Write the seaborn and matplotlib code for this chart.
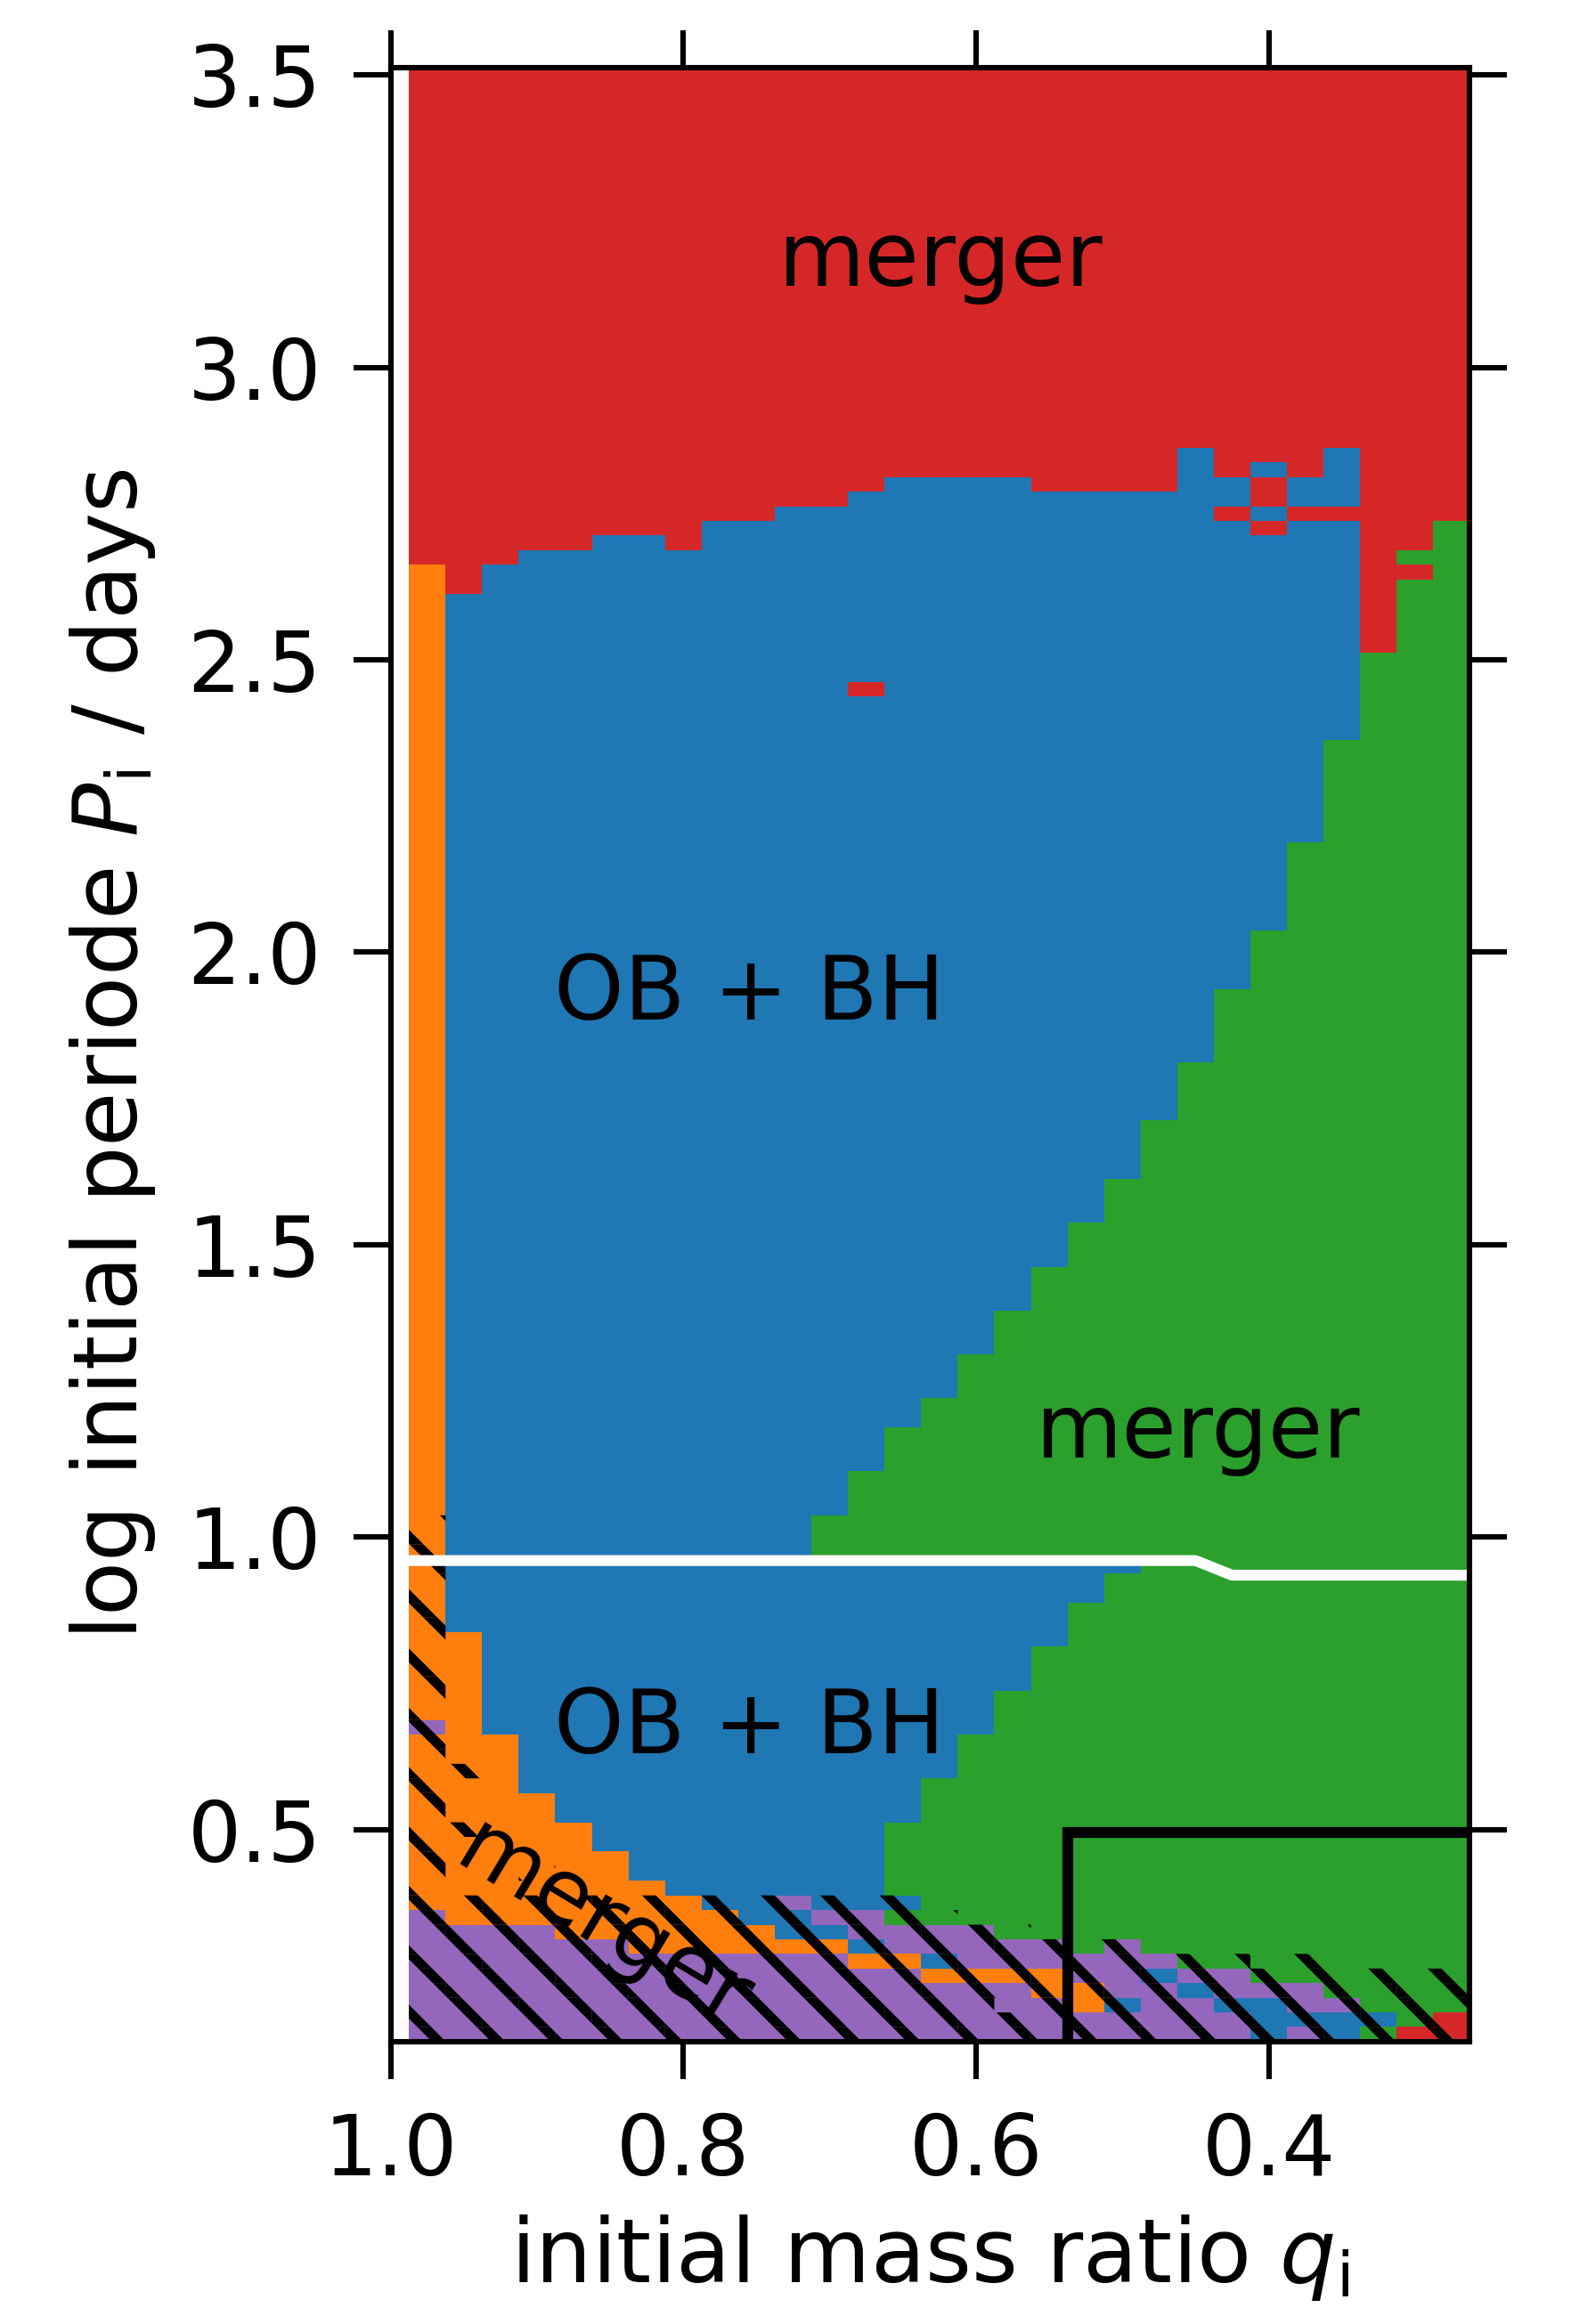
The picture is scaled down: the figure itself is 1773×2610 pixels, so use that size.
import numpy as np
import matplotlib
matplotlib.use('Agg')
import matplotlib.pyplot as plt
from matplotlib.colors import ListedColormap
from matplotlib.ticker import FormatStrFormatter
import seaborn as sns

sns.set_theme(style='ticks', rc={'axes.edgecolor': 'black', 'text.color': 'black',
                                 'axes.labelcolor': 'black', 'xtick.color': 'black',
                                 'ytick.color': 'black'})
plt.rcParams['font.family'] = ['DejaVu Sans']
plt.rcParams['hatch.linewidth'] = 2.0
plt.rcParams['hatch.color'] = 'black'

# model grid: initial mass ratio (columns) and log initial period (rows)
q_vals = [0.975, 0.95, 0.925, 0.9, 0.875, 0.85, 0.825, 0.8, 0.775, 0.75,
          0.725, 0.7, 0.675, 0.65, 0.625, 0.6, 0.575, 0.55, 0.525, 0.5,
          0.475, 0.45, 0.425, 0.4, 0.375, 0.35, 0.325, 0.3, 0.275]
logp_vals = np.round(np.arange(0.15, 3.5001, 0.025), 4)

# upper edge of the non-merger region (red above), one per column
red_bottom = [2.6625, 2.6125, 2.6625, 2.6875, 2.6875, 2.7125, 2.7125, 2.6875, 2.7375, 2.7375,
              2.7625, 2.7625, 2.7875, 2.8125, 2.8125, 2.8125, 2.8125, 2.7875, 2.7875, 2.7875,
              2.7875, 2.8625, 2.8125, 2.8375, 2.8125, 2.8625, 2.5125, 2.6875, 2.7375]
nan = np.nan
# green (merger at low q) upper edges above and below the white line
green_top_upper = [nan] * 11 + [1.0375, 1.1125, 1.1875, 1.2375, 1.3125, 1.3875, 1.4625, 1.5375,
                                1.6125, 1.7125, 1.8125, 1.9375, 2.0375, 2.1875, 2.3625, 2.5125,
                                2.6875, 2.7375]
green_top_lower = [nan] * 13 + [0.5125, 0.5875, 0.6625, 0.7375, 0.8125, 0.8875, 0.9375] + [0.9625] * 9
# orange region (columns 0-9): upper edge and first purple row
orange_top = [3.6, 0.8375, 0.6625, 0.5625, 0.5125, 0.4625, 0.4125, 0.3875, 0.3625, 0.3375]
purple_top = [0.35, 0.325, 0.325, 0.325, 0.3, 0.3, 0.275, 0.275, 0.275, 0.275]
# bottom rows 0.5 ... 0.15 for columns 10-28
band_rows = [0.5, 0.475, 0.45, 0.425, 0.4, 0.375, 0.35, 0.325, 0.3, 0.275, 0.25, 0.225, 0.2, 0.175, 0.15]
band_cols = ['bbbbbpbbopppppp', 'bbbbbbpbopppppp', 'bbbbbbppboppppp', 'gggggbgppoppppp',
             'gggggggppbopppp', 'gggggggpppopppp', 'ggggggggppopppp', 'ggggggggppooppp',
             'gggggggggppoopp', 'ggggggggppppbpp', 'gggggggggpbpppp', 'ggggggggggpbppp',
             'ggggggggggppbpp', 'gggggggggggpbbb', 'gggggggggggppbp', 'ggggggggggggpbb',
             'gggggggggggggbg', 'ggggggggggggggr', 'gggggggggggggrr']
odd_cells = [(12, 2.45, 'r'), (0, 0.675, 'p'), (22, 2.75, 'r'), (23, 2.8, 'r'),
             (23, 2.775, 'r'), (23, 2.725, 'r'), (24, 2.75, 'r'), (25, 2.75, 'r'), (27, 2.65, 'r')]
# hatched cells: highest hatched row per column, plus a few extra cells
hatch_top = [1.025] + [0.375] * 13 + [0.35, 0.325, 0.325, 0.3, 0.3, 0.3, 0.275, 0.275, 0.275,
                                      0.25, 0.275, 0.25, 0.25, 0.25, 0.25]
hatch_extra = [(1, 0.6), (1, 0.5), (3, 0.425)]
hatch_skip = [(16, 0.2)]

# white line between the two grids and black box
white_q = [0.9875, 0.45, 0.425, 0.2625]
white_logp = [0.96, 0.96, 0.935, 0.935]
box_q = [0.5375, 0.5375, 0.2]
box_logp = [0.1375, 0.495, 0.495]

codes = {'r': 0, 'b': 1, 'g': 2, 'o': 3, 'p': 4}
grid = np.zeros((len(logp_vals), len(q_vals)), dtype=int)
hatch = np.zeros_like(grid, dtype=bool)
eps = 1e-6
for c in range(len(q_vals)):
    for r, p in enumerate(logp_vals):
        if p > red_bottom[c]:
            k = 'r'
        elif p > 0.96:
            if c == 0:
                k = 'o'
            elif not np.isnan(green_top_upper[c]) and p < green_top_upper[c]:
                k = 'g'
            else:
                k = 'b'
        elif c < 10:
            if p <= purple_top[c] + eps:
                k = 'p'
            elif p < orange_top[c]:
                k = 'o'
            else:
                k = 'b'
        elif p < 0.5125:
            k = band_cols[c - 10][int(round((0.5 - p) / 0.025))]
        else:
            k = 'g' if (not np.isnan(green_top_lower[c]) and p < green_top_lower[c]) else 'b'
        grid[r, c] = codes[k]
        hatch[r, c] = p <= hatch_top[c] + eps

def row_of(p):
    return int(np.argmin(np.abs(logp_vals - p)))

for c, p, k in odd_cells:
    grid[row_of(p), c] = codes[k]
for c, p in hatch_extra:
    hatch[row_of(p), c] = True
for c, p in hatch_skip:
    hatch[row_of(p), c] = False

pal = sns.color_palette('tab10')
cmap = ListedColormap([pal[3], pal[0], pal[2], pal[1], pal[4]])

fig = plt.figure(figsize=(1773 / 400, 2610 / 400), dpi=400)
ax = fig.add_axes([0.2474, 0.1215, 0.6835, 0.8494])
ax.pcolormesh(q_vals, logp_vals, grid, shading='nearest', cmap=cmap, vmin=-0.5, vmax=4.5)
hmask = np.ma.masked_where(~hatch, np.ones(grid.shape))
ax.pcolor(q_vals, logp_vals, hmask, shading='nearest', hatch='\\\\', facecolor='none',
          edgecolor='black', linewidth=0)

ax.plot(white_q, white_logp, color='white', lw=2.2)
ax.plot(box_q, box_logp, color='black', lw=2.2, solid_joinstyle='miter')

ax.text(0.624, 3.139, 'merger', ha='center', va='baseline', fontsize=18)
ax.text(0.7546, 1.885, 'OB + BH', ha='center', va='baseline', fontsize=18)
ax.text(0.7546, 0.631, 'OB + BH', ha='center', va='baseline', fontsize=18)
ax.text(0.4485, 1.136, 'merger', ha='center', va='baseline', fontsize=18)
ax.text(0.855, 0.335, 'merger', ha='center', va='center', fontsize=18,
        rotation=-31, rotation_mode='anchor')

ax.set_xlim(1.0, 0.2625)
ax.set_ylim(0.1375, 3.5125)
ax.set_xticks([1.0, 0.8, 0.6, 0.4])
ax.set_yticks([0.5, 1.0, 1.5, 2.0, 2.5, 3.0, 3.5])
ax.xaxis.set_major_formatter(FormatStrFormatter('%.1f'))
ax.yaxis.set_major_formatter(FormatStrFormatter('%.1f'))
ax.tick_params(direction='out', length=7.5, width=1.1, labelsize=17, pad=6.5,
               top=True, right=True, labeltop=False, labelright=False)
for s in ax.spines.values():
    s.set_linewidth(1.1)
    s.set_color('black')
ax.set_xlabel('initial mass ratio $q_\\mathrm{i}$', fontsize=18)
ax.set_ylabel('log initial periode $P_\\mathrm{i}$ / days', fontsize=18, labelpad=6)

fig.savefig('out.png', dpi=400)
